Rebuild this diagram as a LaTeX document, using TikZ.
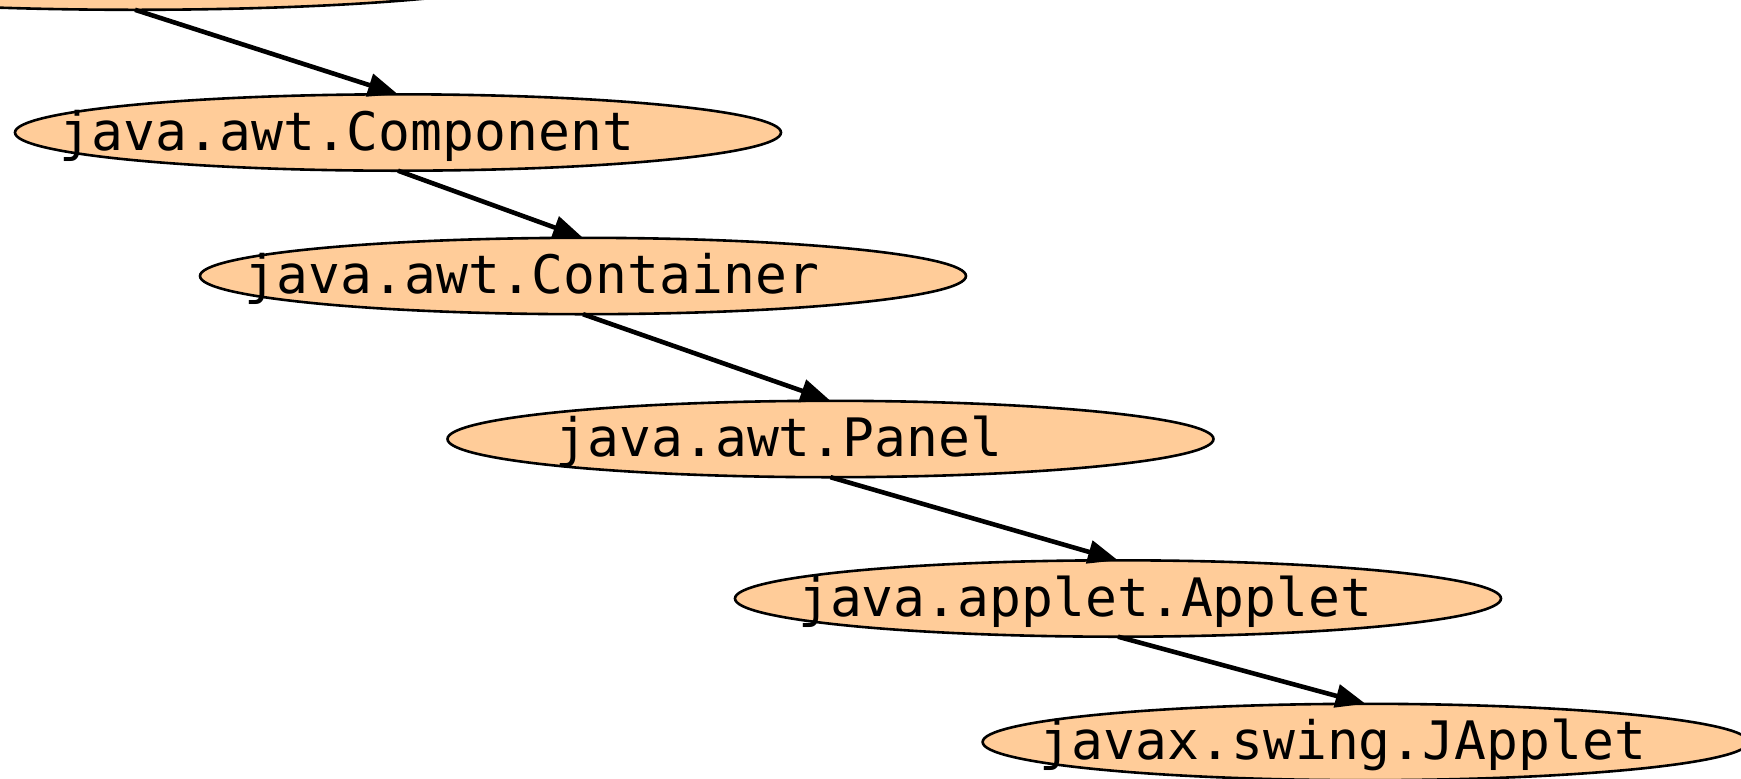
\documentclass[tikz,border=0pt]{standalone}
\usepackage{fontspec}
\newfontfamily\codefont{DejaVu Sans Mono}
\usetikzlibrary{shapes.geometric,arrows.meta}
\definecolor{classfill}{HTML}{FFCC99}
\begin{document}
\begin{tikzpicture}[x=0.5pt,y=-0.5pt,
  classnode/.style={ellipse, draw=black, fill=classfill, line width=1.3pt,
    inner sep=0pt, outer sep=0pt, minimum width=383pt, minimum height=38.2pt},
  classname/.style={font=\codefont\fontsize{26.5pt}{30pt}\selectfont,
    inner sep=0pt, anchor=base},
  inherit/.style={-{Triangle[length=15pt,width=11.5pt]}, line width=2.3pt}]
\clip (0,0) rectangle (1741,778);

% class ellipses (the root sits mostly above the visible area)
\node[classnode, minimum width=410pt] (root) at (135,-28.4) {};
\node[classnode] (comp) at (398,132.5) {};
\node[classnode] (cont) at (583,276) {};
\node[classnode] (panel) at (830.5,439) {};
\node[classnode] (applet) at (1118,598.5) {};
\node[classnode] (japplet) at (1365.6,742) {};

% class names
\node[classname] (compT) at (347,150) {java.awt.Component};
\node[classname] (contT) at (532,293.5) {java.awt.Container};
\node[classname] (panelT) at (779,456.5) {java.awt.Panel};
\node[classname] (appletT) at (1085.3,616) {java.applet.Applet};
\node[classname] (jappletT) at (1343,759) {javax.swing.JApplet};

% inheritance edges
\draw[inherit] (root.south) -- (comp.north);
\draw[inherit] (comp.south) -- (cont.north);
\draw[inherit] (cont.south) -- (panel.north);
\draw[inherit] (panel.south) -- (applet.north);
\draw[inherit] (applet.south) -- (japplet.north);
\end{tikzpicture}
\end{document}
